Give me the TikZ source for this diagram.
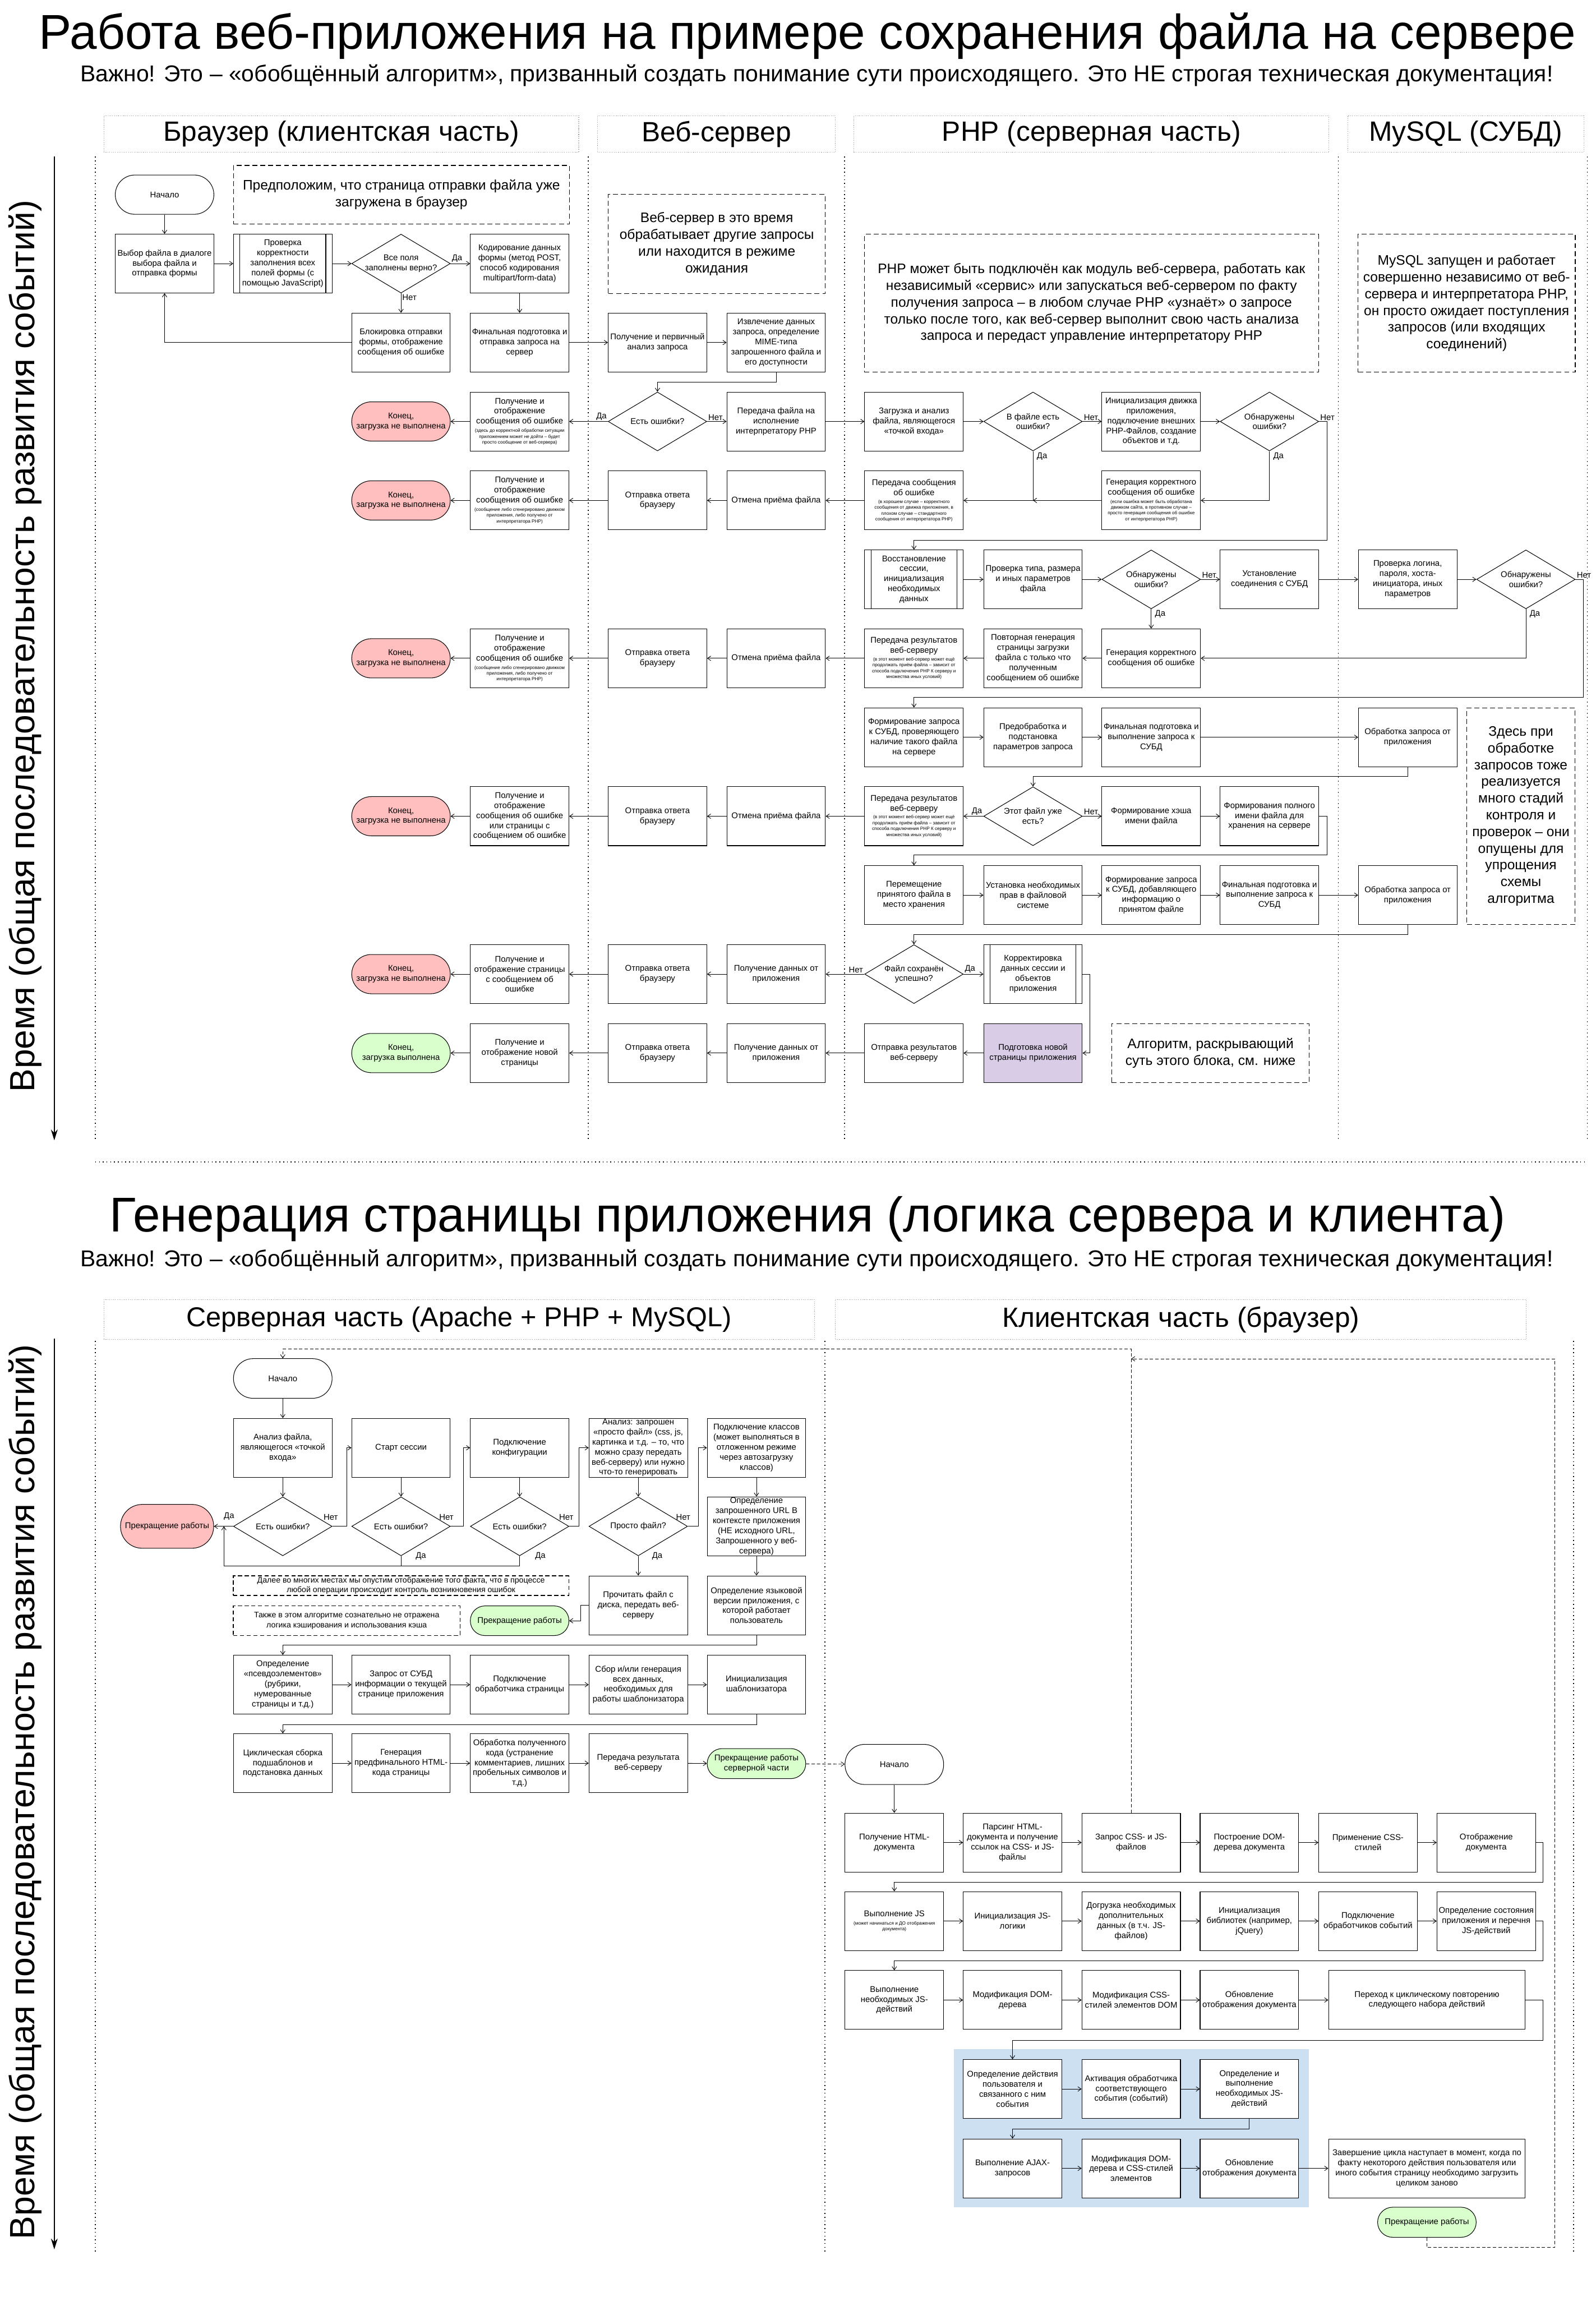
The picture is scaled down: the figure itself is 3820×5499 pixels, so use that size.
\documentclass[tikz,border=0pt]{standalone}
\usepackage{graphicx}
\usepackage{fontspec}
\setmainfont{Liberation Sans}
\usetikzlibrary{arrows.meta,shapes.geometric,calc}
\definecolor{redf}{HTML}{FFBFBF}
\definecolor{greenf}{HTML}{D9FFCC}
\definecolor{purpf}{HTML}{D9CCE6}
\definecolor{bluef}{HTML}{CCE0F2}
\definecolor{hdrgray}{HTML}{9A9A9A}
\newcommand\sm{\fontsize{11}{14}\selectfont}
\newcommand\fitw[2]{\resizebox{#1pt}{!}{#2}}
\tikzset{
  bx/.style={draw, line width=1.4pt, fill=white, minimum width=236pt, minimum height=141pt, inner sep=0pt, align=center, font=\fontsize{20}{24}\selectfont},
  pbx/.style={bx, path picture={\draw[line width=1.4pt] ([xshift=15pt]path picture bounding box.north west) -- ([xshift=15pt]path picture bounding box.south west) ([xshift=-15pt]path picture bounding box.north east) -- ([xshift=-15pt]path picture bounding box.south east);}},
  dia/.style={diamond, draw, line width=1.4pt, fill=white, minimum width=236pt, minimum height=141pt, inner sep=0pt},
  dt/.style={align=center, font=\fontsize{20}{24}\selectfont, inner sep=0pt},
  trm/.style={draw, line width=1.4pt, fill=white, rounded corners=47pt, minimum width=236pt, minimum height=94pt, inner sep=0pt, align=center, font=\fontsize{20}{24}\selectfont},
  trmr/.style={trm, fill=redf},
  trmg/.style={trm, fill=greenf},
  nt/.style={draw, line width=1.6pt, dash pattern=on 12pt off 7pt, align=center, inner sep=0pt, font=\fontsize{33}{40}\selectfont},
  snt/.style={draw, line width=1.6pt, dash pattern=on 10pt off 6pt, align=center, inner sep=0pt, font=\fontsize{19}{23}\selectfont},
  arr/.style={line width=1.2pt, -{Straight Barb[length=8pt,width=11pt,line width=1.2pt]}},
  darr/.style={arr, dash pattern=on 8pt off 5pt},
  lbl/.style={font=\fontsize{20}{24}\selectfont, inner sep=3pt},
  hdr/.style={draw=hdrgray, line width=1.5pt, dash pattern=on 1.5pt off 3pt, inner sep=0pt},
  lane/.style={line width=2pt, dash pattern=on 2pt off 7pt},
  axisarr/.style={line width=3pt, -{Stealth[length=26pt,width=16pt]}},
}
\begin{document}
\begin{tikzpicture}[x=1pt,y=-1pt]
\fill[white] (0,0) rectangle (3820,5499);
\path[use as bounding box] (0,0) rectangle (3820,5499);

%================ TOP SECTION ================
\node (t1) at (1933,86) {\fitw{3676}{Работа веб-приложения на примере сохранения файла на сервере}};
\node (st1) at (1955,180) {\fitw{3525}{Важно! Это – «обобщённый алгоритм», призванный создать понимание сути происходящего. Это НЕ строгая техническая документация!}};

\node[hdr, minimum width=1137pt, minimum height=88pt] (h1) at (817,321) {\fitw{852}{Браузер (клиентская часть)}};
\node[hdr, minimum width=569pt, minimum height=88pt] (h2) at (1715,321) {\fitw{358}{Веб-сервер}};
\node[hdr, minimum width=1137pt, minimum height=88pt] (h3) at (2613,321) {\fitw{715}{PHP (серверная часть)}};
\node[hdr, minimum width=565pt, minimum height=88pt] (h4) at (3509,321) {\fitw{463}{MySQL (СУБД)}};

\draw[lane] (228,375) -- (228,2730);
\draw[lane] (1408,375) -- (1408,2730);
\draw[lane] (2022,375) -- (2022,2730);
\draw[lane] (3204,375) -- (3204,2730);
\draw[lane] (3800,375) -- (3800,2730);
\draw[lane] (228,2782) -- (3800,2782);

\draw[axisarr] (130,375) -- (130,2730);
\node[rotate=90] (ax1) at (60,1547) {\fitw{2133}{Время (общая последовательность развития событий)}};

% R1
\node[trm] (start) at (394,466) {Начало};
\node[nt, minimum width=804pt, minimum height=140pt] (n1) at (961,466) {Предположим, что страница отправки файла уже\\загружена в браузер};
\node[bx] (b1r1) at (394,631) {Выбор файла в диалоге\\выбора файла и\\отправка формы};
\node[pbx] (b2r1) at (677,631) {Проверка\\корректности\\заполнения всех\\полей формы (с\\помощью JavaScript)};
\node[dia, label={[dt]center:Все поля\\заполнены верно?}] (b3r1) at (960,631) {};
\node[bx] (b4r1) at (1244,631) {Кодирование данных\\формы (метод POST,\\способ кодирования\\multipart/form-data)};
\node[nt, minimum width=520pt, minimum height=237pt] (n2) at (1716,584) {Веб-сервер в это время\\обрабатывает другие запросы\\или находится в режиме\\ожидания};
\node[nt, minimum width=1087pt, minimum height=330pt] (n3) at (2613,726) {PHP может быть подключён как модуль веб-сервера, работать как\\независимый «сервис» или запускаться веб-сервером по факту\\получения запроса – в любом случае PHP «узнаёт» о запросе\\только после того, как веб-сервер выполнит свою часть анализа\\запроса и передаст управление интерпретатору PHP};
\node[nt, minimum width=520pt, minimum height=330pt] (n4) at (3511,726) {MySQL запущен и работает\\совершенно независимо от веб-\\сервера и интерпретатора PHP,\\он просто ожидает поступления\\запросов (или входящих\\соединений)};

% R2
\node[bx] (b3r2) at (960,820) {Блокировка отправки\\формы, отображение\\сообщения об ошибке};
\node[bx] (b4r2) at (1244,820) {Финальная подготовка и\\отправка запроса на\\сервер};
\node[bx] (w1r2) at (1574,820) {Получение и первичный\\анализ запроса};
\node[bx] (w2r2) at (1858,820) {Извлечение данных\\запроса, определение\\MIME-типа\\запрошенного файла и\\его доступности};

% R3
\node[trmr] (b3r3) at (960,1009) {Конец,\\загрузка не выполнена};
\node[bx] (b4r3) at (1244,1009) {Получение и\\отображение\\сообщения об ошибке\\[-4pt]{\sm (здесь до корректной обработки ситуации}\\[-10pt]{\sm приложением может не дойти – будет}\\[-10pt]{\sm просто сообщение от веб-сервера)}};
\node[dia, label={[dt]center:Есть ошибки?}] (w1r3) at (1574,1009) {};
\node[bx] (w2r3) at (1858,1009) {Передача файла на\\исполнение\\интерпретатору PHP};
\node[bx] (p1r3) at (2188,1009) {Загрузка и анализ\\файла, являющегося\\«точкой входа»};
\node[dia, label={[dt]center:В файле есть\\ошибки?}] (p2r3) at (2473,1009) {};
\node[bx] (p3r3) at (2756,1009) {Инициализация движка\\приложения,\\подключение внешних\\PHP-Файлов, создание\\объектов и т.д.};
\node[dia, label={[dt]center:Обнаружены\\ошибки?}] (p4r3) at (3039,1009) {};

% R4
\node[trmr] (b3r4) at (960,1198) {Конец,\\загрузка не выполнена};
\node[bx] (b4r4) at (1244,1198) {Получение и\\отображение\\сообщения об ошибке\\[-4pt]{\sm (сообщение либо сгенерировано движком}\\[-10pt]{\sm приложения, либо получено от}\\[-10pt]{\sm интерпретатора PHP)}};
\node[bx] (w1r4) at (1574,1198) {Отправка ответа\\браузеру};
\node[bx] (w2r4) at (1858,1198) {Отмена приёма файла};
\node[bx] (p1r4) at (2188,1198) {Передача сообщения\\об ошибке\\[-5pt]{\sm (в хорошем случае – корректного}\\[-10pt]{\sm сообщения от движка приложения, в}\\[-10pt]{\sm плохом случае – стандартного}\\[-10pt]{\sm сообщения от интерпретатора PHP)}};
\node[bx] (p3r4) at (2756,1198) {Генерация корректного\\сообщения об ошибке\\[-5pt]{\sm (если ошибка может быть обработана}\\[-10pt]{\sm движком сайта, в противном случае –}\\[-10pt]{\sm просто генерация сообщения об ошибке}\\[-10pt]{\sm от интерпретатора PHP)}};

% R5
\node[pbx] (p1r5) at (2188,1387) {Восстановление\\сессии,\\инициализация\\необходимых\\данных};
\node[bx] (p2r5) at (2473,1387) {Проверка типа, размера\\и иных параметров\\файла};
\node[dia, label={[dt]center:Обнаружены\\ошибки?}] (p3r5) at (2756,1387) {};
\node[bx] (p4r5) at (3039,1387) {Установление\\соединения с СУБД};
\node[bx] (m1r5) at (3370,1387) {Проверка логина,\\пароля, хоста-\\инициатора, иных\\параметров};
\node[dia, label={[dt]center:Обнаружены\\ошибки?}] (m2r5) at (3653,1387) {};

% R6
\node[trmr] (b3r6) at (960,1576) {Конец,\\загрузка не выполнена};
\node[bx] (b4r6) at (1244,1576) {Получение и\\отображение\\сообщения об ошибке\\[-4pt]{\sm (сообщение либо сгенерировано движком}\\[-10pt]{\sm приложения, либо получено от}\\[-10pt]{\sm интерпретатора PHP)}};
\node[bx] (w1r6) at (1574,1576) {Отправка ответа\\браузеру};
\node[bx] (w2r6) at (1858,1576) {Отмена приёма файла};
\node[bx] (p1r6) at (2188,1576) {Передача результатов\\веб-серверу\\[-6pt]{\sm (в этот момент веб-сервер может ещё}\\[-10pt]{\sm продолжать приём файла – зависит от}\\[-10pt]{\sm способа подключения PHP К серверу и}\\[-10pt]{\sm множества иных условий)}};
\node[bx] (p2r6) at (2473,1576) {Повторная генерация\\страницы загрузки\\файла с только что\\полученным\\сообщением об ошибке};
\node[bx] (p3r6) at (2756,1576) {Генерация корректного\\сообщения об ошибке};

% R7
\node[bx] (p1r7) at (2188,1765) {Формирование запроса\\к СУБД, проверяющего\\наличие такого файла\\на сервере};
\node[bx] (p2r7) at (2473,1765) {Предобработка и\\подстановка\\параметров запроса};
\node[bx] (p3r7) at (2756,1765) {Финальная подготовка и\\выполнение запроса к\\СУБД};
\node[bx] (m1r7) at (3370,1765) {Обработка запроса от\\приложения};
\node[nt, minimum width=259pt, minimum height=519pt] (n5) at (3641,1954) {Здесь при\\обработке\\запросов тоже\\реализуется\\много стадий\\контроля и\\проверок – они\\опущены для\\упрощения\\схемы\\алгоритма};

% R8
\node[trmr] (b3r8) at (960,1954) {Конец,\\загрузка не выполнена};
\node[bx] (b4r8) at (1244,1954) {Получение и\\отображение\\сообщения об ошибке\\или страницы с\\сообщением об ошибке};
\node[bx] (w1r8) at (1574,1954) {Отправка ответа\\браузеру};
\node[bx] (w2r8) at (1858,1954) {Отмена приёма файла};
\node[bx] (p1r8) at (2188,1954) {Передача результатов\\веб-серверу\\[-6pt]{\sm (в этот момент веб-сервер может ещё}\\[-10pt]{\sm продолжать приём файла – зависит от}\\[-10pt]{\sm способа подключения PHP К серверу и}\\[-10pt]{\sm множества иных условий)}};
\node[dia, label={[dt]center:Этот файл уже\\есть?}] (p2r8) at (2473,1954) {};
\node[bx] (p3r8) at (2756,1954) {Формирование хэша\\имени файла};
\node[bx] (p4r8) at (3039,1954) {Формирования полного\\имени файла для\\хранения на сервере};

% R9
\node[bx] (p1r9) at (2188,2143) {Перемещение\\принятого файла в\\место хранения};
\node[bx] (p2r9) at (2473,2143) {Установка необходимых\\прав в файловой\\системе};
\node[bx] (p3r9) at (2756,2143) {Формирование запроса\\к СУБД, добавляющего\\информацию о\\принятом файле};
\node[bx] (p4r9) at (3039,2143) {Финальная подготовка и\\выполнение запроса к\\СУБД};
\node[bx] (m1r9) at (3370,2143) {Обработка запроса от\\приложения};

% R10
\node[trmr] (b3r10) at (960,2332) {Конец,\\загрузка не выполнена};
\node[bx] (b4r10) at (1244,2332) {Получение и\\отображение страницы\\с сообщением об\\ошибке};
\node[bx] (w1r10) at (1574,2332) {Отправка ответа\\браузеру};
\node[bx] (w2r10) at (1858,2332) {Получение данных от\\приложения};
\node[dia, label={[dt]center:Файл сохранён\\успешно?}] (p1r10) at (2188,2332) {};
\node[pbx] (p2r10) at (2473,2332) {Корректировка\\данных сессии и\\объектов\\приложения};

% R11
\node[trmg] (b3r11) at (960,2521) {Конец,\\загрузка выполнена};
\node[bx] (b4r11) at (1244,2521) {Получение и\\отображение новой\\страницы};
\node[bx] (w1r11) at (1574,2521) {Отправка ответа\\браузеру};
\node[bx] (w2r11) at (1858,2521) {Получение данных от\\приложения};
\node[bx] (p1r11) at (2188,2521) {Отправка результатов\\веб-серверу};
\node[bx, fill=purpf] (p2r11) at (2473,2521) {Подготовка новой\\страницы приложения};
\node[nt, minimum width=473pt, minimum height=141pt] (n6) at (2898,2521) {Алгоритм, раскрывающий\\суть этого блока, см. ниже};

% connectors top
\draw[arr] (start) -- (b1r1);
\draw[arr] (b1r1) -- (b2r1);
\draw[arr] (b2r1) -- (b3r1);
\draw[arr] (b3r1) -- (b4r1);
\node[lbl, anchor=south west] (l1) at (b3r1.east) {Да};
\draw[arr] (b3r1) -- (b3r2);
\node[lbl, anchor=north west] (l2) at (b3r1.south) {Нет};
\draw[arr] (b3r2.west) -| (b1r1.south);
\draw[arr] (b4r1) -- (b4r2);
\draw[arr] (b4r2) -- (w1r2);
\draw[arr] (w1r2) -- (w2r2);
\draw[arr] (w2r2.south) -- ++(0,23) -| (w1r3.north);
\draw[arr] (w1r3) -- (w2r3);
\node[lbl, anchor=south west] (l3) at (w1r3.east) {Нет};
\draw[arr] (w1r3) -- (b4r3);
\node[lbl, anchor=south east] (l4) at (w1r3.west) {Да};
\draw[arr] (b4r3) -- (b3r3);
\draw[arr] (w2r3) -- (p1r3);
\draw[arr] (p1r3) -- (p2r3);
\draw[arr] (p2r3) -- (p3r3);
\node[lbl, anchor=south west] (l5) at (p2r3.east) {Нет};
\draw[arr] (p2r3.south) |- (p1r4.east);
\node[lbl, anchor=north west] (l6) at ([xshift=6pt]p2r3.south) {Да};
\draw[arr] (p3r4.west) -- (p3r4.west -| p2r3.south);
\draw[arr] (p3r3) -- (p4r3);
\draw[arr] (p4r3.south) |- (p3r4.east);
\node[lbl, anchor=north west] (l7) at ([xshift=6pt]p4r3.south) {Да};
\draw[arr] (p4r3.east) -- ++(19,0) |- ([yshift=23pt]p1r5.north) -- (p1r5.north);
\node[lbl, anchor=south west] (l8) at (p4r3.east) {Нет};
\draw[arr] (p1r4) -- (w2r4);
\draw[arr] (w2r4) -- (w1r4);
\draw[arr] (w1r4) -- (b4r4);
\draw[arr] (b4r4) -- (b3r4);

\draw[arr] (p1r5) -- (p2r5);
\draw[arr] (p2r5) -- (p3r5);
\draw[arr] (p3r5) -- (p4r5);
\node[lbl, anchor=south west] (l9) at (p3r5.east) {Нет};
\draw[arr] (p3r5) -- (p3r6);
\node[lbl, anchor=north west] (l10) at ([xshift=6pt]p3r5.south) {Да};
\draw[arr] (p4r5) -- (m1r5);
\draw[arr] (m1r5) -- (m2r5);
\draw[arr] (m2r5.south) |- (p3r6.east);
\node[lbl, anchor=north west] (l11) at ([xshift=6pt]m2r5.south) {Да};
\draw[arr] (m2r5.east) -- ++(19,0) |- ([yshift=25pt]p1r7.north) -- (p1r7.north);
\node[lbl, anchor=south west] (l12) at (m2r5.east) {Нет};

\draw[arr] (p3r6) -- (p2r6);
\draw[arr] (p2r6) -- (p1r6);
\draw[arr] (p1r6) -- (w2r6);
\draw[arr] (w2r6) -- (w1r6);
\draw[arr] (w1r6) -- (b4r6);
\draw[arr] (b4r6) -- (b3r6);

\draw[arr] (p1r7) -- (p2r7);
\draw[arr] (p2r7) -- (p3r7);
\draw[arr] (p3r7) -- (m1r7);
\draw[arr] (m1r7.south) -- ++(0,22) -| (p2r8.north);

\draw[arr] (p2r8) -- (p1r8);
\node[lbl, anchor=south east] (l13) at (p2r8.west) {Да};
\draw[arr] (p2r8) -- (p3r8);
\node[lbl, anchor=south west] (l14) at (p2r8.east) {Нет};
\draw[arr] (p3r8) -- (p4r8);
\draw[arr] (p4r8.east) -- ++(19,0) |- ([yshift=25pt]p1r9.north) -- (p1r9.north);
\draw[arr] (p1r8) -- (w2r8);
\draw[arr] (w2r8) -- (w1r8);
\draw[arr] (w1r8) -- (b4r8);
\draw[arr] (b4r8) -- (b3r8);

\draw[arr] (p1r9) -- (p2r9);
\draw[arr] (p2r9) -- (p3r9);
\draw[arr] (p3r9) -- (p4r9);
\draw[arr] (p4r9) -- (m1r9);
\draw[arr] (m1r9.south) -- ++(0,23) -| (p1r10.north);

\draw[arr] (p1r10) -- (w2r10);
\node[lbl, anchor=south east] (l15) at (p1r10.west) {Нет};
\draw[arr] (p1r10) -- (p2r10);
\node[lbl, anchor=south west] (l16) at (p1r10.east) {Да};
\draw[arr] (w2r10) -- (w1r10);
\draw[arr] (w1r10) -- (b4r10);
\draw[arr] (b4r10) -- (b3r10);
\draw[arr] (p2r10.east) -- ++(17,0) |- (p2r11.east);

\draw[arr] (p2r11) -- (p1r11);
\draw[arr] (p1r11) -- (w2r11);
\draw[arr] (w2r11) -- (w1r11);
\draw[arr] (w1r11) -- (b4r11);
\draw[arr] (b4r11) -- (b3r11);

%================ BOTTOM SECTION ================
\node (t2) at (1933,2919) {\fitw{3340}{Генерация страницы приложения (логика сервера и клиента)}};
\node (st2) at (1955,3017) {\fitw{3525}{Важно! Это – «обобщённый алгоритм», призванный создать понимание сути происходящего. Это НЕ строгая техническая документация!}};
\node[hdr, minimum width=1701pt, minimum height=96pt] (h5) at (1099,3159) {\fitw{1305}{Серверная часть (Apache + PHP + MySQL)}};
\node[hdr, minimum width=1654pt, minimum height=96pt] (h6) at (2827,3159) {\fitw{855}{Клиентская часть (браузер)}};

\draw[lane] (228,3210) -- (228,5390);
\draw[lane] (1975,3210) -- (1975,5390);
\draw[lane] (3767,3210) -- (3767,5390);

\draw[axisarr] (130,3205) -- (130,5385);
\node[rotate=90] (ax2) at (60,4290) {\fitw{2140}{Время (общая последовательность развития событий)}};

\fill[bluef] (2284,4906) rectangle (3133,5284);

% server
\node[trm, minimum height=95pt] (sstart) at (677,3300) {Начало};
\node[bx] (s1c1) at (677,3466) {Анализ файла,\\являющегося «точкой\\входа»};
\node[bx] (s1c2) at (960,3466) {Старт сессии};
\node[bx] (s1c3) at (1244,3466) {Подключение\\конфигурации};
\node[bx] (s1c4) at (1528,3466) {Анализ: запрошен\\«просто файл» (css, js,\\картинка и т.д. – то, что\\можно сразу передать\\веб-серверу) или нужно\\что-то генерировать};
\node[bx] (s1c5) at (1811,3466) {Подключение классов\\(может выполняться в\\отложенном режиме\\через автозагрузку\\классов)};
\node[dia, label={[dt]center:Есть ошибки?}] (s2c1) at (677,3654) {};
\node[dia, label={[dt]center:Есть ошибки?}] (s2c2) at (960,3654) {};
\node[dia, label={[dt]center:Есть ошибки?}] (s2c3) at (1244,3654) {};
\node[dia, label={[dt]center:Просто файл?}] (s2c4) at (1528,3654) {};
\node[bx] (s2c5) at (1811,3654) {Определение\\запрошенного URL В\\контексте приложения\\(НЕ исходного URL,\\Запрошенного у веб-\\сервера)};
\node[trmr, minimum width=223pt, minimum height=105pt, rounded corners=52pt] (sstop) at (400,3654) {Прекращение работы};
\node[snt, minimum width=803pt, minimum height=47pt] (sn1) at (960,3796) {Далее во многих местах мы опустим отображение того факта, что в процессе\\любой операции происходит контроль возникновения ошибок};
\node[snt, minimum width=543pt, minimum height=71pt] (sn2) at (830,3880) {Также в этом алгоритме сознательно не отражена\\логика кэширования и использования кэша};
\node[trmg, minimum height=71pt, rounded corners=35pt] (sok1) at (1244,3880) {Прекращение работы};
\node[bx] (s3c4) at (1528,3843) {Прочитать файл с\\диска, передать веб-\\серверу};
\node[bx] (s3c5) at (1811,3843) {Определение языковой\\версии приложения, с\\которой работает\\пользователь};
\node[bx] (s4c1) at (677,4033) {Определение\\«псевдоэлементов»\\(рубрики,\\нумерованные\\страницы и т.д.)};
\node[bx] (s4c2) at (960,4033) {Запрос от СУБД\\информации о текущей\\странице приложения};
\node[bx] (s4c3) at (1244,4033) {Подключение\\обработчика страницы};
\node[bx] (s4c4) at (1528,4033) {Сбор и/или генерация\\всех данных,\\необходимых для\\работы шаблонизатора};
\node[bx] (s4c5) at (1811,4033) {Инициализация\\шаблонизатора};
\node[bx] (s5c1) at (677,4221) {Циклическая сборка\\подшаблонов и\\подстановка данных};
\node[bx] (s5c2) at (960,4221) {Генерация\\предфинального HTML-\\кода страницы};
\node[bx] (s5c3) at (1244,4221) {Обработка полученного\\кода (устранение\\комментариев, лишних\\пробельных символов и\\т.д.)};
\node[bx] (s5c4) at (1528,4221) {Передача результата\\веб-серверу};
\node[trmg, minimum height=72pt, rounded corners=36pt] (sok2) at (1811,4222) {Прекращение работы\\серверной части};

% client
\node[trm, minimum height=96pt] (cstart) at (2141,4224) {Начало};
\node[bx] (c1d1) at (2141,4411) {Получение HTML-\\документа};
\node[bx] (c1d2) at (2424,4411) {Парсинг HTML-\\документа и получение\\ссылок на CSS- и JS-\\файлы};
\node[bx] (c1d3) at (2708,4411) {Запрос CSS- и JS-\\файлов};
\node[bx] (c1d4) at (2991,4411) {Построение DOM-\\дерева документа};
\node[bx] (c1d5) at (3275,4411) {Применение CSS-\\стилей};
\node[bx] (c1d6) at (3558,4411) {Отображение\\документа};
\node[bx] (c2d1) at (2141,4599) {Выполнение JS\\[-4pt]{\sm (может начинаться и ДО отображения}\\[-10pt]{\sm документа)}};
\node[bx] (c2d2) at (2424,4599) {Инициализация JS-\\логики};
\node[bx] (c2d3) at (2708,4599) {Догрузка необходимых\\дополнительных\\данных (в т.ч. JS-\\файлов)};
\node[bx] (c2d4) at (2991,4599) {Инициализация\\библиотек (например,\\jQuery)};
\node[bx] (c2d5) at (3275,4599) {Подключение\\обработчиков событий};
\node[bx] (c2d6) at (3558,4599) {Определение состояния\\приложения и перечня\\JS-действий};
\node[bx] (c3d1) at (2141,4788) {Выполнение\\необходимых JS-\\действий};
\node[bx] (c3d2) at (2424,4788) {Модификация DOM-\\дерева};
\node[bx] (c3d3) at (2708,4788) {Модификация CSS-\\стилей элементов DOM};
\node[bx] (c3d4) at (2991,4788) {Обновление\\отображения документа};
\node[bx, minimum width=471pt] (c3w) at (3416,4788) {Переход к циклическому повторению\\следующего набора действий};
\node[bx] (c4d2) at (2424,5001) {Определение действия\\пользователя и\\связанного с ним\\события};
\node[bx] (c4d3) at (2708,5001) {Активация обработчика\\соответствующего\\события (событий)};
\node[bx] (c4d4) at (2991,5001) {Определение и\\выполнение\\необходимых JS-\\действий};
\node[bx] (c5d2) at (2424,5191) {Выполнение AJAX-\\запросов};
\node[bx] (c5d3) at (2708,5191) {Модификация DOM-\\дерева и CSS-стилей\\элементов};
\node[bx] (c5d4) at (2991,5191) {Обновление\\отображения документа};
\node[bx, minimum width=471pt] (c5w) at (3416,5191) {Завершение цикла наступает в момент, когда по\\факту некоторого действия пользователя или\\иного события страницу необходимо загрузить\\целиком заново};
\node[trmg, minimum height=72pt, rounded corners=36pt] (cstop) at (3416,5320) {Прекращение работы};

% server connectors
\draw[arr] (sstart) -- (s1c1);
\draw[arr] (s1c1) -- (s2c1);
\draw[arr] (s2c1.east) -- ++(35,0) |- (s1c2.west);
\node[lbl, anchor=south] (ls1) at ([xshift=-4pt,yshift=12pt]s2c1.east) {Нет};
\draw[arr] (s2c1) -- (sstop);
\node[lbl, anchor=south] (ls2) at ([xshift=-10pt,yshift=12pt]s2c1.west) {Да};
\draw[arr] (s1c2) -- (s2c2);
\draw[arr] (s2c2.east) -- ++(31,0) |- (s1c3.west);
\node[lbl, anchor=south] (ls3) at ([xshift=-10pt,yshift=12pt]s2c2.east) {Нет};
\draw[arr] (s1c3) -- (s2c3);
\draw[arr] (s2c3.east) -- ++(24,0) |- (s1c4.west);
\node[lbl, anchor=south] (ls4) at ([xshift=-7pt,yshift=12pt]s2c3.east) {Нет};
\draw[arr] (s1c4) -- (s2c4);
\draw[arr] (s2c4.east) -- ++(25,0) |- (s1c5.west);
\node[lbl, anchor=south] (ls5) at ([xshift=-11pt,yshift=12pt]s2c4.east) {Нет};
\draw[line width=1.2pt] (s2c2.south) -- ++(0,24);
\draw[arr] (s2c3.south) -- ++(0,24) -| (536,3654);
\node[lbl, anchor=west] (ls6) at ([xshift=32pt]s2c2.south) {Да};
\node[lbl, anchor=west] (ls7) at ([xshift=34pt]s2c3.south) {Да};
\draw[arr] (s2c4) -- (s3c4);
\node[lbl, anchor=west] (ls8) at ([xshift=30pt]s2c4.south) {Да};
\draw[arr] (s1c5) -- (s2c5);
\draw[arr] (s2c5) -- (s3c5);
\draw[arr] (s3c4.west) -- ++(-19,0) |- (sok1.east);
\draw[arr] (s3c5.south) -- ++(0,24) -| (s4c1.north);
\draw[arr] (s4c1) -- (s4c2);
\draw[arr] (s4c2) -- (s4c3);
\draw[arr] (s4c3) -- (s4c4);
\draw[arr] (s4c4) -- (s4c5);
\draw[arr] (s4c5.south) -- ++(0,24) -| (s5c1.north);
\draw[arr] (s5c1) -- (s5c2);
\draw[arr] (s5c2) -- (s5c3);
\draw[arr] (s5c3) -- (s5c4);
\draw[arr] (s5c4) -- (sok2);
\draw[darr] (sok2) -- (cstart);

% client connectors
\draw[arr] (cstart) -- (c1d1);
\draw[arr] (c1d1) -- (c1d2);
\draw[arr] (c1d2) -- (c1d3);
\draw[arr] (c1d3) -- (c1d4);
\draw[arr] (c1d4) -- (c1d5);
\draw[arr] (c1d5) -- (c1d6);
\draw[arr] (c1d6.east) -- ++(17,0) -- ++(0,95) -| (c2d1.north);
\draw[arr] (c2d1) -- (c2d2);
\draw[arr] (c2d2) -- (c2d3);
\draw[arr] (c2d3) -- (c2d4);
\draw[arr] (c2d4) -- (c2d5);
\draw[arr] (c2d5) -- (c2d6);
\draw[arr] (c2d6.east) -- ++(17,0) -- ++(0,95) -| (c3d1.north);
\draw[arr] (c3d1) -- (c3d2);
\draw[arr] (c3d2) -- (c3d3);
\draw[arr] (c3d3) -- (c3d4);
\draw[arr] (c3d4) -- (c3w);
\draw[arr] (c3w.east) -- ++(42,0) -- ++(0,96) -| (c4d2.north);
\draw[arr] (c4d2) -- (c4d3);
\draw[arr] (c4d3) -- (c4d4);
\draw[arr] (c4d4.south) -- ++(0,25) -| (c5d2.north);
\draw[arr] (c5d2) -- (c5d3);
\draw[arr] (c5d3) -- (c5d4);
\draw[arr] (c5d4) -- (c5w);
\draw[darr] (c1d3.north) -- ++(0,-1110) -| (sstart.north);
\draw[darr] (cstop.south) -- ++(0,24) -| (3722,3253) -- (2708,3253);
\end{tikzpicture}
\end{document}
